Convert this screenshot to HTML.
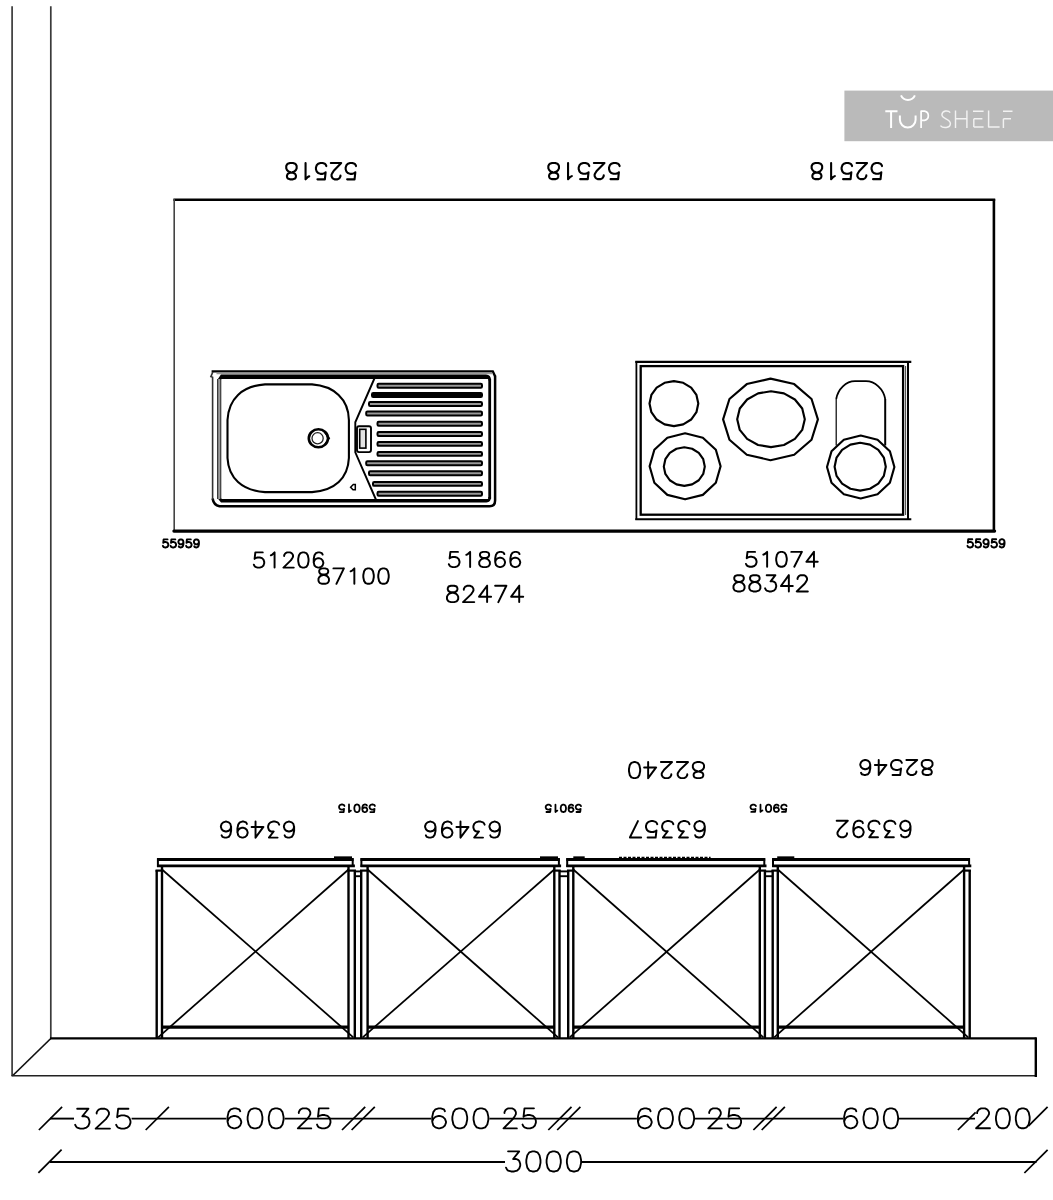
<!DOCTYPE html>
<html><head><meta charset="utf-8"><title>Kitchen plan</title>
<style>
html,body{margin:0;padding:0;background:#fff;}
body{width:1053px;height:1200px;overflow:hidden;font-family:"Liberation Sans",sans-serif;}
svg{display:block;}
</style></head><body>
<svg width="1053" height="1200" viewBox="0 0 1053 1200">
<rect x="0" y="0" width="1053" height="1200" fill="#ffffff"/>
<line x1="12.10" y1="6.20" x2="12.10" y2="1076.00" stroke="#3a3a3a" stroke-width="1.70" stroke-linecap="butt"/>
<line x1="50.80" y1="6.20" x2="50.80" y2="1038.60" stroke="#3a3a3a" stroke-width="1.70" stroke-linecap="butt"/>
<line x1="50.80" y1="1038.50" x2="12.30" y2="1076.00" stroke="#111" stroke-width="1.70" stroke-linecap="butt"/>
<line x1="50.00" y1="1038.40" x2="1036.50" y2="1038.40" stroke="#000" stroke-width="2.20" stroke-linecap="butt"/>
<line x1="11.50" y1="1075.80" x2="1036.50" y2="1075.80" stroke="#222" stroke-width="1.60" stroke-linecap="butt"/>
<line x1="1035.80" y1="1037.50" x2="1035.80" y2="1077.00" stroke="#000" stroke-width="2.40" stroke-linecap="butt"/>
<line x1="173.40" y1="199.80" x2="995.20" y2="199.80" stroke="#000" stroke-width="2.40" stroke-linecap="butt"/>
<line x1="174.20" y1="199.00" x2="174.20" y2="531.00" stroke="#444" stroke-width="1.60" stroke-linecap="butt"/>
<line x1="993.90" y1="199.00" x2="993.90" y2="532.00" stroke="#000" stroke-width="2.60" stroke-linecap="butt"/>
<line x1="173.90" y1="531.10" x2="994.60" y2="531.10" stroke="#000" stroke-width="3.20" stroke-linecap="round"/>
<path d="M347.14 179.35 L354.56 179.35 L355.31 172.32 L354.56 173.10 L352.34 173.88 L350.11 173.88 L347.88 173.10 L346.40 171.54 L345.65 169.20 L345.65 167.64 L346.40 165.29 L347.88 163.73 L350.11 162.95 L352.34 162.95 L354.56 163.73 L355.31 164.51 L356.05 166.07 M340.46 175.45 L340.46 176.23 L339.71 177.79 L338.97 178.57 L337.49 179.35 L334.52 179.35 L333.03 178.57 L332.29 177.79 L331.55 176.23 L331.55 174.66 L332.29 173.10 L333.77 170.76 L341.20 162.95 L330.80 162.95 M317.44 179.35 L324.86 179.35 L325.61 172.32 L324.86 173.10 L322.64 173.88 L320.41 173.88 L318.18 173.10 L316.69 171.54 L315.95 169.20 L315.95 167.64 L316.69 165.29 L318.18 163.73 L320.41 162.95 L322.64 162.95 L324.86 163.73 L325.61 164.51 L326.35 166.07 M309.27 176.23 L307.78 177.01 L305.56 179.35 L305.56 162.95 M292.93 179.35 L295.16 178.57 L295.90 177.01 L295.90 175.45 L295.16 173.88 L293.68 173.10 L290.71 172.32 L288.48 171.54 L286.99 169.98 L286.25 168.42 L286.25 166.07 L286.99 164.51 L287.74 163.73 L289.96 162.95 L292.93 162.95 L295.16 163.73 L295.90 164.51 L296.65 166.07 L296.65 168.42 L295.90 169.98 L294.42 171.54 L292.19 172.32 L289.22 173.10 L287.74 173.88 L286.99 175.45 L286.99 177.01 L287.74 178.57 L289.96 179.35 L292.93 179.35" fill="none" stroke="#000" stroke-width="2.10" stroke-linecap="round" stroke-linejoin="round"/>
<path d="M610.55 179.15 L618.13 179.15 L618.89 172.21 L618.13 172.98 L615.86 173.75 L613.58 173.75 L611.31 172.98 L609.79 171.44 L609.03 169.12 L609.03 167.58 L609.79 165.26 L611.31 163.72 L613.58 162.95 L615.86 162.95 L618.13 163.72 L618.89 164.49 L619.65 166.04 M603.72 175.29 L603.72 176.06 L602.96 177.61 L602.20 178.38 L600.69 179.15 L597.65 179.15 L596.14 178.38 L595.38 177.61 L594.62 176.06 L594.62 174.52 L595.38 172.98 L596.89 170.66 L604.48 162.95 L593.86 162.95 M580.21 179.15 L587.79 179.15 L588.55 172.21 L587.79 172.98 L585.52 173.75 L583.24 173.75 L580.97 172.98 L579.45 171.44 L578.69 169.12 L578.69 167.58 L579.45 165.26 L580.97 163.72 L583.24 162.95 L585.52 162.95 L587.79 163.72 L588.55 164.49 L589.31 166.04 M571.86 176.06 L570.35 176.84 L568.07 179.15 L568.07 162.95 M555.18 179.15 L557.45 178.38 L558.21 176.84 L558.21 175.29 L557.45 173.75 L555.94 172.98 L552.90 172.21 L550.63 171.44 L549.11 169.89 L548.35 168.35 L548.35 166.04 L549.11 164.49 L549.87 163.72 L552.14 162.95 L555.18 162.95 L557.45 163.72 L558.21 164.49 L558.97 166.04 L558.97 168.35 L558.21 169.89 L556.69 171.44 L554.42 172.21 L551.38 172.98 L549.87 173.75 L549.11 175.29 L549.11 176.84 L549.87 178.38 L552.14 179.15 L555.18 179.15" fill="none" stroke="#000" stroke-width="2.10" stroke-linecap="round" stroke-linejoin="round"/>
<path d="M873.06 179.15 L880.55 179.15 L881.30 172.21 L880.55 172.98 L878.31 173.75 L876.06 173.75 L873.81 172.98 L872.31 171.44 L871.56 169.12 L871.56 167.58 L872.31 165.26 L873.81 163.72 L876.06 162.95 L878.31 162.95 L880.55 163.72 L881.30 164.49 L882.05 166.04 M866.32 175.29 L866.32 176.06 L865.57 177.61 L864.82 178.38 L863.33 179.15 L860.33 179.15 L858.83 178.38 L858.08 177.61 L857.34 176.06 L857.34 174.52 L858.08 172.98 L859.58 170.66 L867.07 162.95 L856.59 162.95 M843.11 179.15 L850.59 179.15 L851.34 172.21 L850.59 172.98 L848.35 173.75 L846.10 173.75 L843.85 172.98 L842.36 171.44 L841.61 169.12 L841.61 167.58 L842.36 165.26 L843.85 163.72 L846.10 162.95 L848.35 162.95 L850.59 163.72 L851.34 164.49 L852.09 166.04 M834.87 176.06 L833.37 176.84 L831.12 179.15 L831.12 162.95 M818.39 179.15 L820.64 178.38 L821.39 176.84 L821.39 175.29 L820.64 173.75 L819.14 172.98 L816.14 172.21 L813.90 171.44 L812.40 169.89 L811.65 168.35 L811.65 166.04 L812.40 164.49 L813.15 163.72 L815.39 162.95 L818.39 162.95 L820.64 163.72 L821.39 164.49 L822.14 166.04 L822.14 168.35 L821.39 169.89 L819.89 171.44 L817.64 172.21 L814.65 172.98 L813.15 173.75 L812.40 175.29 L812.40 176.84 L813.15 178.38 L815.39 179.15 L818.39 179.15" fill="none" stroke="#000" stroke-width="2.10" stroke-linecap="round" stroke-linejoin="round"/>
<path d="M167.53 539.38 L163.65 539.38 L163.26 542.82 L163.65 542.44 L164.81 542.06 L165.98 542.06 L167.14 542.44 L167.91 543.21 L168.30 544.36 L168.30 545.12 L167.91 546.27 L167.14 547.04 L165.98 547.42 L164.81 547.42 L163.65 547.04 L163.26 546.66 L162.88 545.89 M175.28 539.38 L171.40 539.38 L171.02 542.82 L171.40 542.44 L172.57 542.06 L173.73 542.06 L174.89 542.44 L175.67 543.21 L176.05 544.36 L176.05 545.12 L175.67 546.27 L174.89 547.04 L173.73 547.42 L172.57 547.42 L171.40 547.04 L171.02 546.66 L170.63 545.89 M183.42 542.06 L183.03 543.21 L182.26 543.98 L181.09 544.36 L180.71 544.36 L179.54 543.98 L178.77 543.21 L178.38 542.06 L178.38 541.67 L178.77 540.52 L179.54 539.76 L180.71 539.38 L181.09 539.38 L182.26 539.76 L183.03 540.52 L183.42 542.06 L183.42 543.98 L183.03 545.89 L182.26 547.04 L181.09 547.42 L180.32 547.42 L179.16 547.04 L178.77 546.27 M190.78 539.38 L186.91 539.38 L186.52 542.82 L186.91 542.44 L188.07 542.06 L189.23 542.06 L190.40 542.44 L191.17 543.21 L191.56 544.36 L191.56 545.12 L191.17 546.27 L190.40 547.04 L189.23 547.42 L188.07 547.42 L186.91 547.04 L186.52 546.66 L186.13 545.89 M198.93 542.06 L198.54 543.21 L197.76 543.98 L196.60 544.36 L196.21 544.36 L195.05 543.98 L194.27 543.21 L193.89 542.06 L193.89 541.67 L194.27 540.52 L195.05 539.76 L196.21 539.38 L196.60 539.38 L197.76 539.76 L198.54 540.52 L198.93 542.06 L198.93 543.98 L198.54 545.89 L197.76 547.04 L196.60 547.42 L195.82 547.42 L194.66 547.04 L194.27 546.27" fill="none" stroke="#000" stroke-width="1.95" stroke-linecap="round" stroke-linejoin="round"/>
<path d="M972.26 539.18 L968.27 539.18 L967.87 542.71 L968.27 542.32 L969.47 541.93 L970.66 541.93 L971.86 542.32 L972.65 543.10 L973.05 544.28 L973.05 545.07 L972.65 546.25 L971.86 547.03 L970.66 547.42 L969.47 547.42 L968.27 547.03 L967.87 546.64 L967.48 545.85 M980.22 539.18 L976.24 539.18 L975.84 542.71 L976.24 542.32 L977.43 541.93 L978.63 541.93 L979.83 542.32 L980.62 543.10 L981.02 544.28 L981.02 545.07 L980.62 546.25 L979.83 547.03 L978.63 547.42 L977.43 547.42 L976.24 547.03 L975.84 546.64 L975.44 545.85 M988.59 541.93 L988.19 543.10 L987.39 543.89 L986.20 544.28 L985.80 544.28 L984.61 543.89 L983.81 543.10 L983.41 541.93 L983.41 541.53 L983.81 540.35 L984.61 539.57 L985.80 539.18 L986.20 539.18 L987.39 539.57 L988.19 540.35 L988.59 541.93 L988.59 543.89 L988.19 545.85 L987.39 547.03 L986.20 547.42 L985.40 547.42 L984.21 547.03 L983.81 546.25 M996.16 539.18 L992.17 539.18 L991.78 542.71 L992.17 542.32 L993.37 541.93 L994.57 541.93 L995.76 542.32 L996.56 543.10 L996.96 544.28 L996.96 545.07 L996.56 546.25 L995.76 547.03 L994.57 547.42 L993.37 547.42 L992.17 547.03 L991.78 546.64 L991.38 545.85 M1004.52 541.93 L1004.13 543.10 L1003.33 543.89 L1002.13 544.28 L1001.74 544.28 L1000.54 543.89 L999.74 543.10 L999.35 541.93 L999.35 541.53 L999.74 540.35 L1000.54 539.57 L1001.74 539.18 L1002.13 539.18 L1003.33 539.57 L1004.13 540.35 L1004.52 541.93 L1004.52 543.89 L1004.13 545.85 L1003.33 547.03 L1002.13 547.42 L1001.34 547.42 L1000.14 547.03 L999.74 546.25" fill="none" stroke="#000" stroke-width="1.95" stroke-linecap="round" stroke-linejoin="round"/>
<path d="M262.74 552.38 L255.35 552.38 L254.61 558.91 L255.35 558.18 L257.57 557.46 L259.79 557.46 L262.00 558.18 L263.48 559.64 L264.22 561.82 L264.22 563.27 L263.48 565.45 L262.00 566.90 L259.79 567.62 L257.57 567.62 L255.35 566.90 L254.61 566.17 L253.88 564.72 M270.87 555.28 L272.35 554.55 L274.56 552.38 L274.56 567.62 M284.17 556.01 L284.17 555.28 L284.91 553.83 L285.64 553.10 L287.12 552.38 L290.08 552.38 L291.56 553.10 L292.29 553.83 L293.03 555.28 L293.03 556.73 L292.29 558.18 L290.82 560.36 L283.43 567.62 L293.77 567.62 M302.64 552.38 L300.42 553.10 L298.94 555.28 L298.20 558.91 L298.20 561.09 L298.94 564.72 L300.42 566.90 L302.64 567.62 L304.12 567.62 L306.33 566.90 L307.81 564.72 L308.55 561.09 L308.55 558.91 L307.81 555.28 L306.33 553.10 L304.12 552.38 L302.64 552.38 M322.59 554.55 L321.85 553.10 L319.63 552.38 L318.15 552.38 L315.94 553.10 L314.46 555.28 L313.72 558.91 L313.72 562.54 L314.46 565.45 L315.94 566.90 L318.15 567.62 L318.89 567.62 L321.11 566.90 L322.59 565.45 L323.32 563.27 L323.32 562.54 L322.59 560.36 L321.11 558.91 L318.89 558.18 L318.15 558.18 L315.94 558.91 L314.46 560.36 L313.72 562.54" fill="none" stroke="#000" stroke-width="1.95" stroke-linecap="round" stroke-linejoin="round"/>
<path d="M322.21 568.38 L319.97 569.11 L319.22 570.58 L319.22 572.05 L319.97 573.52 L321.46 574.26 L324.45 575.00 L326.70 575.73 L328.19 577.20 L328.94 578.67 L328.94 580.88 L328.19 582.35 L327.44 583.09 L325.20 583.82 L322.21 583.82 L319.97 583.09 L319.22 582.35 L318.48 580.88 L318.48 578.67 L319.22 577.20 L320.72 575.73 L322.96 575.00 L325.95 574.26 L327.44 573.52 L328.19 572.05 L328.19 570.58 L327.44 569.11 L325.20 568.38 L322.21 568.38 M343.88 568.38 L336.41 583.82 M333.42 568.38 L343.88 568.38 M350.61 571.32 L352.11 570.58 L354.35 568.38 L354.35 583.82 M367.80 568.38 L365.56 569.11 L364.06 571.32 L363.32 575.00 L363.32 577.20 L364.06 580.88 L365.56 583.09 L367.80 583.82 L369.29 583.82 L371.54 583.09 L373.03 580.88 L373.78 577.20 L373.78 575.00 L373.03 571.32 L371.54 569.11 L369.29 568.38 L367.80 568.38 M382.75 568.38 L380.50 569.11 L379.01 571.32 L378.26 575.00 L378.26 577.20 L379.01 580.88 L380.50 583.09 L382.75 583.82 L384.24 583.82 L386.48 583.09 L387.98 580.88 L388.72 577.20 L388.72 575.00 L387.98 571.32 L386.48 569.11 L384.24 568.38 L382.75 568.38" fill="none" stroke="#000" stroke-width="1.95" stroke-linecap="round" stroke-linejoin="round"/>
<path d="M457.98 551.88 L450.39 551.88 L449.63 558.41 L450.39 557.68 L452.67 556.96 L454.95 556.96 L457.22 557.68 L458.74 559.14 L459.50 561.32 L459.50 562.77 L458.74 564.95 L457.22 566.40 L454.95 567.12 L452.67 567.12 L450.39 566.40 L449.63 565.67 L448.88 564.22 M466.33 554.78 L467.85 554.05 L470.13 551.88 L470.13 567.12 M483.03 551.88 L480.75 552.60 L480.00 554.05 L480.00 555.51 L480.75 556.96 L482.27 557.68 L485.31 558.41 L487.59 559.14 L489.10 560.59 L489.86 562.04 L489.86 564.22 L489.10 565.67 L488.35 566.40 L486.07 567.12 L483.03 567.12 L480.75 566.40 L480.00 565.67 L479.24 564.22 L479.24 562.04 L480.00 560.59 L481.51 559.14 L483.79 558.41 L486.83 557.68 L488.35 556.96 L489.10 555.51 L489.10 554.05 L488.35 552.60 L486.07 551.88 L483.03 551.88 M504.29 554.05 L503.53 552.60 L501.25 551.88 L499.73 551.88 L497.45 552.60 L495.94 554.78 L495.18 558.41 L495.18 562.04 L495.94 564.95 L497.45 566.40 L499.73 567.12 L500.49 567.12 L502.77 566.40 L504.29 564.95 L505.04 562.77 L505.04 562.04 L504.29 559.86 L502.77 558.41 L500.49 557.68 L499.73 557.68 L497.45 558.41 L495.94 559.86 L495.18 562.04 M519.47 554.05 L518.71 552.60 L516.43 551.88 L514.91 551.88 L512.63 552.60 L511.12 554.78 L510.36 558.41 L510.36 562.04 L511.12 564.95 L512.63 566.40 L514.91 567.12 L515.67 567.12 L517.95 566.40 L519.47 564.95 L520.23 562.77 L520.23 562.04 L519.47 559.86 L517.95 558.41 L515.67 557.68 L514.91 557.68 L512.63 558.41 L511.12 559.86 L510.36 562.04" fill="none" stroke="#000" stroke-width="1.95" stroke-linecap="round" stroke-linejoin="round"/>
<path d="M450.99 585.77 L448.58 586.55 L447.78 588.11 L447.78 589.67 L448.58 591.23 L450.19 592.00 L453.40 592.78 L455.80 593.56 L457.41 595.12 L458.21 596.67 L458.21 599.01 L457.41 600.57 L456.61 601.35 L454.20 602.12 L450.99 602.12 L448.58 601.35 L447.78 600.57 L446.98 599.01 L446.98 596.67 L447.78 595.12 L449.38 593.56 L451.79 592.78 L455.00 592.00 L456.61 591.23 L457.41 589.67 L457.41 588.11 L456.61 586.55 L454.20 585.77 L450.99 585.77 M463.83 589.67 L463.83 588.89 L464.63 587.33 L465.44 586.55 L467.04 585.77 L470.25 585.77 L471.86 586.55 L472.66 587.33 L473.46 588.89 L473.46 590.45 L472.66 592.00 L471.05 594.34 L463.03 602.12 L474.26 602.12 M487.11 585.77 L479.08 596.67 L491.12 596.67 M487.11 585.77 L487.11 602.12 M506.37 585.77 L498.34 602.12 M495.13 585.77 L506.37 585.77 M519.21 585.77 L511.19 596.67 L523.23 596.67 M519.21 585.77 L519.21 602.12" fill="none" stroke="#000" stroke-width="1.95" stroke-linecap="round" stroke-linejoin="round"/>
<path d="M755.04 551.88 L747.49 551.88 L746.73 558.24 L747.49 557.53 L749.75 556.83 L752.02 556.83 L754.28 557.53 L755.79 558.95 L756.55 561.07 L756.55 562.48 L755.79 564.60 L754.28 566.02 L752.02 566.73 L749.75 566.73 L747.49 566.02 L746.73 565.31 L745.98 563.90 M763.35 554.70 L764.86 554.00 L767.12 551.88 L767.12 566.73 M780.72 551.88 L778.45 552.58 L776.94 554.70 L776.19 558.24 L776.19 560.36 L776.94 563.90 L778.45 566.02 L780.72 566.73 L782.23 566.73 L784.49 566.02 L786.00 563.90 L786.76 560.36 L786.76 558.24 L786.00 554.70 L784.49 552.58 L782.23 551.88 L780.72 551.88 M801.86 551.88 L794.31 566.73 M791.29 551.88 L801.86 551.88 M813.95 551.88 L806.40 561.77 L817.73 561.77 M813.95 551.88 L813.95 566.73" fill="none" stroke="#000" stroke-width="1.95" stroke-linecap="round" stroke-linejoin="round"/>
<path d="M737.43 575.18 L735.06 575.95 L734.27 577.50 L734.27 579.04 L735.06 580.59 L736.64 581.37 L739.80 582.14 L742.18 582.91 L743.76 584.46 L744.55 586.01 L744.55 588.33 L743.76 589.88 L742.97 590.65 L740.59 591.42 L737.43 591.42 L735.06 590.65 L734.27 589.88 L733.48 588.33 L733.48 586.01 L734.27 584.46 L735.85 582.91 L738.22 582.14 L741.38 581.37 L742.97 580.59 L743.76 579.04 L743.76 577.50 L742.97 575.95 L740.59 575.18 L737.43 575.18 M753.25 575.18 L750.88 575.95 L750.09 577.50 L750.09 579.04 L750.88 580.59 L752.46 581.37 L755.62 582.14 L757.99 582.91 L759.58 584.46 L760.37 586.01 L760.37 588.33 L759.58 589.88 L758.79 590.65 L756.41 591.42 L753.25 591.42 L750.88 590.65 L750.09 589.88 L749.29 588.33 L749.29 586.01 L750.09 584.46 L751.67 582.91 L754.04 582.14 L757.20 581.37 L758.79 580.59 L759.58 579.04 L759.58 577.50 L758.79 575.95 L756.41 575.18 L753.25 575.18 M766.70 575.18 L775.40 575.18 L770.65 581.37 L773.02 581.37 L774.60 582.14 L775.40 582.91 L776.19 585.23 L776.19 586.78 L775.40 589.10 L773.81 590.65 L771.44 591.42 L769.07 591.42 L766.70 590.65 L765.90 589.88 L765.11 588.33 M788.84 575.18 L780.93 586.01 L792.80 586.01 M788.84 575.18 L788.84 591.42 M797.54 579.04 L797.54 578.27 L798.33 576.72 L799.12 575.95 L800.71 575.18 L803.87 575.18 L805.45 575.95 L806.24 576.72 L807.03 578.27 L807.03 579.82 L806.24 581.37 L804.66 583.69 L796.75 591.42 L807.82 591.42" fill="none" stroke="#000" stroke-width="1.95" stroke-linecap="round" stroke-linejoin="round"/>
<path d="M284.67 835.33 L285.46 836.86 L287.82 837.62 L289.40 837.62 L291.76 836.86 L293.34 834.57 L294.12 830.75 L294.12 826.93 L293.34 823.87 L291.76 822.34 L289.40 821.58 L288.61 821.58 L286.25 822.34 L284.67 823.87 L283.89 826.16 L283.89 826.93 L284.67 829.22 L286.25 830.75 L288.61 831.51 L289.40 831.51 L291.76 830.75 L293.34 829.22 L294.12 826.93 M277.58 837.62 L268.92 837.62 L273.65 831.51 L271.28 831.51 L269.71 830.75 L268.92 829.98 L268.13 827.69 L268.13 826.16 L268.92 823.87 L270.50 822.34 L272.86 821.58 L275.22 821.58 L277.58 822.34 L278.37 823.10 L279.16 824.63 M255.53 837.62 L263.41 826.93 L251.59 826.93 M255.53 837.62 L255.53 821.58 M237.42 832.27 L238.20 829.98 L239.78 828.45 L242.14 827.69 L242.93 827.69 L245.29 828.45 L246.87 829.98 L247.65 832.27 L247.65 833.04 L246.87 835.33 L245.29 836.86 L242.93 837.62 L242.14 837.62 L239.78 836.86 L238.20 835.33 L237.42 832.27 L237.42 828.45 L238.20 824.63 L239.78 822.34 L242.14 821.58 L243.72 821.58 L246.08 822.34 L246.87 823.87 M221.66 835.33 L222.45 836.86 L224.81 837.62 L226.39 837.62 L228.75 836.86 L230.33 834.57 L231.11 830.75 L231.11 826.93 L230.33 823.87 L228.75 822.34 L226.39 821.58 L225.60 821.58 L223.24 822.34 L221.66 823.87 L220.88 826.16 L220.88 826.93 L221.66 829.22 L223.24 830.75 L225.60 831.51 L226.39 831.51 L228.75 830.75 L230.33 829.22 L231.11 826.93" fill="none" stroke="#000" stroke-width="1.95" stroke-linecap="round" stroke-linejoin="round"/>
<path d="M490.27 835.33 L491.07 836.86 L493.49 837.62 L495.10 837.62 L497.51 836.86 L499.12 834.57 L499.92 830.75 L499.92 826.93 L499.12 823.87 L497.51 822.34 L495.10 821.58 L494.29 821.58 L491.88 822.34 L490.27 823.87 L489.46 826.16 L489.46 826.93 L490.27 829.22 L491.88 830.75 L494.29 831.51 L495.10 831.51 L497.51 830.75 L499.12 829.22 L499.92 826.93 M483.02 837.62 L474.17 837.62 L479.00 831.51 L476.58 831.51 L474.97 830.75 L474.17 829.98 L473.37 827.69 L473.37 826.16 L474.17 823.87 L475.78 822.34 L478.19 821.58 L480.61 821.58 L483.02 822.34 L483.83 823.10 L484.63 824.63 M460.49 837.62 L468.54 826.93 L456.46 826.93 M460.49 837.62 L460.49 821.58 M441.98 832.27 L442.78 829.98 L444.39 828.45 L446.81 827.69 L447.61 827.69 L450.03 828.45 L451.63 829.98 L452.44 832.27 L452.44 833.04 L451.63 835.33 L450.03 836.86 L447.61 837.62 L446.81 837.62 L444.39 836.86 L442.78 835.33 L441.98 832.27 L441.98 828.45 L442.78 824.63 L444.39 822.34 L446.81 821.58 L448.42 821.58 L450.83 822.34 L451.63 823.87 M425.88 835.33 L426.68 836.86 L429.10 837.62 L430.71 837.62 L433.12 836.86 L434.73 834.57 L435.54 830.75 L435.54 826.93 L434.73 823.87 L433.12 822.34 L430.71 821.58 L429.90 821.58 L427.49 822.34 L425.88 823.87 L425.08 826.16 L425.08 826.93 L425.88 829.22 L427.49 830.75 L429.90 831.51 L430.71 831.51 L433.12 830.75 L434.73 829.22 L435.54 826.93" fill="none" stroke="#000" stroke-width="1.95" stroke-linecap="round" stroke-linejoin="round"/>
<path d="M695.15 835.17 L695.96 836.74 L698.38 837.52 L699.99 837.52 L702.41 836.74 L704.02 834.39 L704.82 830.48 L704.82 826.56 L704.02 823.43 L702.41 821.86 L699.99 821.08 L699.18 821.08 L696.77 821.86 L695.15 823.43 L694.35 825.77 L694.35 826.56 L695.15 828.91 L696.77 830.48 L699.18 831.26 L699.99 831.26 L702.41 830.48 L704.02 828.91 L704.82 826.56 M687.90 837.52 L679.04 837.52 L683.87 831.26 L681.45 831.26 L679.84 830.48 L679.04 829.69 L678.23 827.34 L678.23 825.77 L679.04 823.43 L680.65 821.86 L683.07 821.08 L685.48 821.08 L687.90 821.86 L688.71 822.64 L689.51 824.21 M671.78 837.52 L662.92 837.52 L667.75 831.26 L665.34 831.26 L663.72 830.48 L662.92 829.69 L662.11 827.34 L662.11 825.77 L662.92 823.43 L664.53 821.86 L666.95 821.08 L669.36 821.08 L671.78 821.86 L672.59 822.64 L673.39 824.21 M647.61 837.52 L655.66 837.52 L656.47 830.48 L655.66 831.26 L653.25 832.04 L650.83 832.04 L648.41 831.26 L646.80 829.69 L645.99 827.34 L645.99 825.77 L646.80 823.43 L648.41 821.86 L650.83 821.08 L653.25 821.08 L655.66 821.86 L656.47 822.64 L657.28 824.21 M629.88 837.52 L637.93 821.08 M641.16 837.52 L629.88 837.52" fill="none" stroke="#000" stroke-width="1.95" stroke-linecap="round" stroke-linejoin="round"/>
<path d="M901.00 834.88 L901.79 836.44 L904.17 837.23 L905.76 837.23 L908.14 836.44 L909.73 834.09 L910.52 830.17 L910.52 826.26 L909.73 823.12 L908.14 821.56 L905.76 820.77 L904.97 820.77 L902.58 821.56 L901.00 823.12 L900.20 825.48 L900.20 826.26 L901.00 828.61 L902.58 830.17 L904.97 830.96 L905.76 830.96 L908.14 830.17 L909.73 828.61 L910.52 826.26 M893.85 837.23 L885.11 837.23 L889.88 830.96 L887.50 830.96 L885.91 830.17 L885.11 829.39 L884.32 827.04 L884.32 825.48 L885.11 823.12 L886.70 821.56 L889.08 820.77 L891.47 820.77 L893.85 821.56 L894.64 822.34 L895.44 823.91 M877.97 837.23 L869.23 837.23 L874.00 830.96 L871.61 830.96 L870.03 830.17 L869.23 829.39 L868.44 827.04 L868.44 825.48 L869.23 823.12 L870.82 821.56 L873.20 820.77 L875.59 820.77 L877.97 821.56 L878.76 822.34 L879.56 823.91 M853.35 831.74 L854.14 829.39 L855.73 827.83 L858.12 827.04 L858.91 827.04 L861.29 827.83 L862.88 829.39 L863.67 831.74 L863.67 832.52 L862.88 834.88 L861.29 836.44 L858.91 837.23 L858.12 837.23 L855.73 836.44 L854.14 834.88 L853.35 831.74 L853.35 827.83 L854.14 823.91 L855.73 821.56 L858.12 820.77 L859.70 820.77 L862.09 821.56 L862.88 823.12 M847.00 833.31 L847.00 834.09 L846.20 835.66 L845.41 836.44 L843.82 837.23 L840.65 837.23 L839.06 836.44 L838.26 835.66 L837.47 834.09 L837.47 832.52 L838.26 830.96 L839.85 828.61 L847.79 820.77 L836.68 820.77" fill="none" stroke="#000" stroke-width="1.95" stroke-linecap="round" stroke-linejoin="round"/>
<path d="M700.03 778.12 L702.43 777.36 L703.23 775.83 L703.23 774.30 L702.43 772.77 L700.83 772.01 L697.64 771.25 L695.24 770.48 L693.65 768.95 L692.85 767.43 L692.85 765.13 L693.65 763.60 L694.44 762.84 L696.84 762.08 L700.03 762.08 L702.43 762.84 L703.23 763.60 L704.02 765.13 L704.02 767.43 L703.23 768.95 L701.63 770.48 L699.23 771.25 L696.04 772.01 L694.44 772.77 L693.65 774.30 L693.65 775.83 L694.44 777.36 L696.84 778.12 L700.03 778.12 M687.26 774.30 L687.26 775.07 L686.46 776.60 L685.66 777.36 L684.06 778.12 L680.87 778.12 L679.27 777.36 L678.48 776.60 L677.68 775.07 L677.68 773.54 L678.48 772.01 L680.07 769.72 L688.06 762.08 L676.88 762.08 M671.29 774.30 L671.29 775.07 L670.49 776.60 L669.69 777.36 L668.10 778.12 L664.90 778.12 L663.31 777.36 L662.51 776.60 L661.71 775.07 L661.71 773.54 L662.51 772.01 L664.10 769.72 L672.09 762.08 L660.91 762.08 M648.14 778.12 L656.12 767.43 L644.14 767.43 M648.14 778.12 L648.14 762.08 M635.36 778.12 L637.76 777.36 L639.35 775.07 L640.15 771.25 L640.15 768.95 L639.35 765.13 L637.76 762.84 L635.36 762.08 L633.77 762.08 L631.37 762.84 L629.77 765.13 L628.98 768.95 L628.98 771.25 L629.77 775.07 L631.37 777.36 L633.77 778.12 L635.36 778.12" fill="none" stroke="#000" stroke-width="1.95" stroke-linecap="round" stroke-linejoin="round"/>
<path d="M928.68 774.92 L930.99 774.21 L931.76 772.79 L931.76 771.37 L930.99 769.94 L929.45 769.23 L926.38 768.52 L924.07 767.81 L922.53 766.38 L921.76 764.96 L921.76 762.82 L922.53 761.40 L923.30 760.69 L925.61 759.98 L928.68 759.98 L930.99 760.69 L931.76 761.40 L932.52 762.82 L932.52 764.96 L931.76 766.38 L930.22 767.81 L927.91 768.52 L924.84 769.23 L923.30 769.94 L922.53 771.37 L922.53 772.79 L923.30 774.21 L925.61 774.92 L928.68 774.92 M916.38 771.37 L916.38 772.08 L915.62 773.50 L914.85 774.21 L913.31 774.92 L910.24 774.92 L908.70 774.21 L907.93 773.50 L907.16 772.08 L907.16 770.65 L907.93 769.23 L909.47 767.09 L917.15 759.98 L906.39 759.98 M892.56 774.92 L900.24 774.92 L901.01 768.52 L900.24 769.23 L897.94 769.94 L895.63 769.94 L893.33 769.23 L891.79 767.81 L891.02 765.67 L891.02 764.25 L891.79 762.11 L893.33 760.69 L895.63 759.98 L897.94 759.98 L900.24 760.69 L901.01 761.40 L901.78 762.82 M878.72 774.92 L886.41 764.96 L874.88 764.96 M878.72 774.92 L878.72 759.98 M861.04 772.79 L861.81 774.21 L864.12 774.92 L865.66 774.92 L867.96 774.21 L869.50 772.08 L870.27 768.52 L870.27 764.96 L869.50 762.11 L867.96 760.69 L865.66 759.98 L864.89 759.98 L862.58 760.69 L861.04 762.11 L860.27 764.25 L860.27 764.96 L861.04 767.09 L862.58 768.52 L864.89 769.23 L865.66 769.23 L867.96 768.52 L869.50 767.09 L870.27 764.96" fill="none" stroke="#000" stroke-width="1.95" stroke-linecap="round" stroke-linejoin="round"/>
<path d="M370.33 812.10 L374.14 812.10 L374.52 808.84 L374.14 809.20 L373.00 809.57 L371.85 809.57 L370.71 809.20 L369.95 808.48 L369.57 807.40 L369.57 806.67 L369.95 805.59 L370.71 804.86 L371.85 804.50 L373.00 804.50 L374.14 804.86 L374.52 805.22 L374.90 805.95 M362.33 809.57 L362.71 808.48 L363.47 807.76 L364.62 807.40 L365.00 807.40 L366.14 807.76 L366.90 808.48 L367.28 809.57 L367.28 809.93 L366.90 811.01 L366.14 811.74 L365.00 812.10 L364.62 812.10 L363.47 811.74 L362.71 811.01 L362.33 809.57 L362.33 807.76 L362.71 805.95 L363.47 804.86 L364.62 804.50 L365.38 804.50 L366.52 804.86 L366.90 805.59 M357.38 812.10 L358.52 811.74 L359.29 810.65 L359.67 808.84 L359.67 807.76 L359.29 805.95 L358.52 804.86 L357.38 804.50 L356.62 804.50 L355.48 804.86 L354.71 805.95 L354.33 807.76 L354.33 808.84 L354.71 810.65 L355.48 811.74 L356.62 812.10 L357.38 812.10 M350.91 810.65 L350.14 811.01 L349.00 812.10 L349.00 804.50 M339.86 812.10 L343.67 812.10 L344.05 808.84 L343.67 809.20 L342.53 809.57 L341.39 809.57 L340.24 809.20 L339.48 808.48 L339.10 807.40 L339.10 806.67 L339.48 805.59 L340.24 804.86 L341.39 804.50 L342.53 804.50 L343.67 804.86 L344.05 805.22 L344.43 805.95" fill="none" stroke="#000" stroke-width="1.80" stroke-linecap="round" stroke-linejoin="round"/>
<path d="M576.49 812.00 L580.25 812.00 L580.62 808.87 L580.25 809.22 L579.12 809.57 L578.00 809.57 L576.87 809.22 L576.12 808.52 L575.74 807.48 L575.74 806.79 L576.12 805.74 L576.87 805.05 L578.00 804.70 L579.12 804.70 L580.25 805.05 L580.62 805.40 L581.00 806.09 M568.61 809.57 L568.98 808.52 L569.73 807.83 L570.86 807.48 L571.24 807.48 L572.36 807.83 L573.11 808.52 L573.49 809.57 L573.49 809.91 L573.11 810.96 L572.36 811.65 L571.24 812.00 L570.86 812.00 L569.73 811.65 L568.98 810.96 L568.61 809.57 L568.61 807.83 L568.98 806.09 L569.73 805.05 L570.86 804.70 L571.61 804.70 L572.74 805.05 L573.11 805.74 M563.73 812.00 L564.85 811.65 L565.60 810.61 L565.98 808.87 L565.98 807.83 L565.60 806.09 L564.85 805.05 L563.73 804.70 L562.97 804.70 L561.85 805.05 L561.10 806.09 L560.72 807.83 L560.72 808.87 L561.10 810.61 L561.85 811.65 L562.97 812.00 L563.73 812.00 M557.34 810.61 L556.59 810.96 L555.46 812.00 L555.46 804.70 M546.45 812.00 L550.21 812.00 L550.58 808.87 L550.21 809.22 L549.08 809.57 L547.95 809.57 L546.83 809.22 L546.08 808.52 L545.70 807.48 L545.70 806.79 L546.08 805.74 L546.83 805.05 L547.95 804.70 L549.08 804.70 L550.21 805.05 L550.58 805.40 L550.96 806.09" fill="none" stroke="#000" stroke-width="1.80" stroke-linecap="round" stroke-linejoin="round"/>
<path d="M781.99 811.90 L785.83 811.90 L786.22 808.81 L785.83 809.16 L784.68 809.50 L783.53 809.50 L782.38 809.16 L781.61 808.47 L781.22 807.44 L781.22 806.76 L781.61 805.73 L782.38 805.04 L783.53 804.70 L784.68 804.70 L785.83 805.04 L786.22 805.39 L786.60 806.07 M773.93 809.50 L774.31 808.47 L775.08 807.79 L776.23 807.44 L776.61 807.44 L777.77 807.79 L778.54 808.47 L778.92 809.50 L778.92 809.84 L778.54 810.87 L777.77 811.56 L776.61 811.90 L776.23 811.90 L775.08 811.56 L774.31 810.87 L773.93 809.50 L773.93 807.79 L774.31 806.07 L775.08 805.04 L776.23 804.70 L777.00 804.70 L778.15 805.04 L778.54 805.73 M768.93 811.90 L770.09 811.56 L770.85 810.53 L771.24 808.81 L771.24 807.79 L770.85 806.07 L770.09 805.04 L768.93 804.70 L768.17 804.70 L767.01 805.04 L766.25 806.07 L765.86 807.79 L765.86 808.81 L766.25 810.53 L767.01 811.56 L768.17 811.90 L768.93 811.90 M762.41 810.53 L761.64 810.87 L760.49 811.90 L760.49 804.70 M751.27 811.90 L755.11 811.90 L755.49 808.81 L755.11 809.16 L753.96 809.50 L752.80 809.50 L751.65 809.16 L750.88 808.47 L750.50 807.44 L750.50 806.76 L750.88 805.73 L751.65 805.04 L752.80 804.70 L753.96 804.70 L755.11 805.04 L755.49 805.39 L755.88 806.07" fill="none" stroke="#000" stroke-width="1.80" stroke-linecap="round" stroke-linejoin="round"/>
<path d="M211.6 371.4 L492.8 371.4 L495.1 376.2" fill="none" stroke="#000" stroke-width="2.4" stroke-linejoin="miter"/>
<path d="M495.1 375.5 L495.1 500.5 Q495.1 506.3 489.5 506.3 L219.5 506.3 Q213.6 505 212.6 498.5" fill="none" stroke="#000" stroke-width="2.5"/>
<path d="M212.6 499.5 L212.6 377.2 L210.9 376.6 L212.8 372" fill="none" stroke="#333" stroke-width="1.6"/>
<line x1="216.50" y1="373.50" x2="492.60" y2="373.50" stroke="#9a9a9a" stroke-width="1.40" stroke-linecap="butt"/>
<path d="M216.9 380.4 L220.9 374.4 L486 374.4 Q491.1 374.4 491.1 380.5 L488.3 380.5 L488.3 379 L221.6 379 L219.6 380.4 Z" fill="#000"/>
<line x1="489.70" y1="379.00" x2="489.70" y2="499.00" stroke="#000" stroke-width="2.80" stroke-linecap="butt"/>
<path d="M217.0 497.6 L221.0 502.5 L486.4 502.5 Q491.1 502.3 491.1 497 L488.3 497 L488.3 499.1 L222 499.1 L219.8 497.6 Z" fill="#000"/>
<line x1="219.10" y1="379.00" x2="219.10" y2="499.00" stroke="#9a9a9a" stroke-width="2.20" stroke-linecap="butt"/>
<line x1="217.60" y1="379.00" x2="217.60" y2="499.00" stroke="#3a3a3a" stroke-width="1.25" stroke-linecap="butt"/>
<line x1="220.70" y1="379.00" x2="220.70" y2="499.00" stroke="#3a3a3a" stroke-width="1.25" stroke-linecap="butt"/>
<path d="M265 384.4 L312 384.4 C334 386 348.6 399 348.9 420 L348.9 458 C348 478 335 490.5 312 492.1 L265 492.1 C242 490.5 228.5 478 227.5 458 L227.5 420 C228.5 399 242 386 265 384.4 Z" fill="none" stroke="#000" stroke-width="2.1"/>
<ellipse cx="318.40" cy="438.30" rx="9.60" ry="9.00" fill="none" stroke="#000" stroke-width="2.60"/>
<ellipse cx="317.60" cy="438.30" rx="5.60" ry="5.60" fill="none" stroke="#222" stroke-width="1.30"/>
<path d="M324.5 432.2 L329.3 438.3 L324.5 444.6" fill="none" stroke="#000" stroke-width="1.5"/>
<path d="M350.6 487.2 L353.3 484.5 L355.3 484.5 L355.3 489.7 L353 489.7 Z" fill="none" stroke="#000" stroke-width="1.5"/>
<path d="M374.4 378.5 L355.3 422.3 L355.3 452.3 L375.9 499.5" fill="none" stroke="#000" stroke-width="1.9"/>
<rect x="357.00" y="426.30" width="14.00" height="25.80" rx="2.00" fill="none" stroke="#000" stroke-width="1.90"/>
<rect x="359.70" y="429.30" width="6.20" height="18.80" rx="0.00" fill="#e4e4e4" stroke="#000" stroke-width="1.60"/>
<rect x="377.50" y="383.85" width="104.50" height="3.9" rx="1.2" fill="#989898" stroke="#000" stroke-width="2.0"/>
<rect x="372.00" y="393.05" width="110.00" height="3.9" rx="1.2" fill="#000" stroke="#000" stroke-width="2.0"/>
<rect x="369.00" y="402.05" width="113.00" height="3.9" rx="1.2" fill="#989898" stroke="#000" stroke-width="2.0"/>
<rect x="366.20" y="411.55" width="115.80" height="3.9" rx="1.2" fill="#989898" stroke="#000" stroke-width="2.0"/>
<rect x="377.50" y="421.85" width="104.50" height="3.9" rx="1.2" fill="#989898" stroke="#000" stroke-width="2.0"/>
<rect x="377.50" y="432.05" width="104.50" height="3.9" rx="1.2" fill="#989898" stroke="#000" stroke-width="2.0"/>
<rect x="377.50" y="441.95" width="104.50" height="3.9" rx="1.2" fill="#989898" stroke="#000" stroke-width="2.0"/>
<rect x="377.50" y="451.95" width="104.50" height="3.9" rx="1.2" fill="#989898" stroke="#000" stroke-width="2.0"/>
<rect x="366.20" y="461.35" width="115.80" height="3.9" rx="1.2" fill="#989898" stroke="#000" stroke-width="2.0"/>
<rect x="369.00" y="471.25" width="113.00" height="3.9" rx="1.2" fill="#989898" stroke="#000" stroke-width="2.0"/>
<rect x="373.00" y="481.95" width="109.00" height="3.9" rx="1.2" fill="#989898" stroke="#000" stroke-width="2.0"/>
<rect x="377.50" y="491.75" width="104.50" height="3.9" rx="1.2" fill="#989898" stroke="#000" stroke-width="2.0"/>
<line x1="635.30" y1="361.90" x2="911.30" y2="361.90" stroke="#000" stroke-width="2.30" stroke-linecap="butt"/>
<line x1="635.30" y1="519.20" x2="911.30" y2="519.20" stroke="#000" stroke-width="2.00" stroke-linecap="butt"/>
<line x1="636.40" y1="361.00" x2="636.40" y2="520.00" stroke="#000" stroke-width="1.80" stroke-linecap="butt"/>
<line x1="908.00" y1="361.00" x2="908.00" y2="520.00" stroke="#000" stroke-width="2.00" stroke-linecap="butt"/>
<rect x="640.70" y="366.10" width="262.40" height="148.60" rx="0.00" fill="none" stroke="#000" stroke-width="2.30"/>
<line x1="905.60" y1="366.00" x2="905.60" y2="515.00" stroke="#444" stroke-width="1.00" stroke-linecap="butt"/>
<polygon points="698.30,403.60 696.44,412.21 691.15,419.51 683.24,424.39 673.90,426.10 664.56,424.39 656.65,419.51 651.36,412.21 649.50,403.60 651.36,394.99 656.65,387.69 664.56,382.81 673.90,381.10 683.24,382.81 691.15,387.69 696.44,394.99" fill="none" stroke="#000" stroke-width="2.15" stroke-linejoin="round"/>
<polygon points="720.60,466.30 715.84,482.80 702.85,494.88 685.10,499.30 667.35,494.88 654.36,482.80 649.60,466.30 654.36,449.80 667.35,437.72 685.10,433.30 702.85,437.72 715.84,449.80" fill="none" stroke="#000" stroke-width="2.15" stroke-linejoin="round"/>
<polygon points="704.80,466.60 703.24,473.99 698.80,480.25 692.15,484.43 684.30,485.90 676.45,484.43 669.80,480.25 665.36,473.99 663.80,466.60 665.36,459.21 669.80,452.95 676.45,448.77 684.30,447.30 692.15,448.77 698.80,452.95 703.24,459.21" fill="none" stroke="#000" stroke-width="2.15" stroke-linejoin="round"/>
<polygon points="817.90,419.40 811.55,439.80 794.20,454.73 770.50,460.20 746.80,454.73 729.45,439.80 723.10,419.40 729.45,399.00 746.80,384.07 770.50,378.60 794.20,384.07 811.55,399.00" fill="none" stroke="#000" stroke-width="2.15" stroke-linejoin="round"/>
<polygon points="804.80,419.20 802.23,429.88 794.90,438.93 783.93,444.98 771.00,447.10 758.07,444.98 747.10,438.93 739.77,429.88 737.20,419.20 739.77,408.52 747.10,399.47 758.07,393.42 771.00,391.30 783.93,393.42 794.90,399.47 802.23,408.52" fill="none" stroke="#000" stroke-width="2.15" stroke-linejoin="round"/>
<path d="M836.2 445.5 L836.2 399" fill="none" stroke="#000" stroke-width="1.2"/>
<path d="M836.2 399 C838 389 846 381.2 855 381.2 L866 381.2 C875 381.2 883.5 389 885.2 399" fill="none" stroke="#000" stroke-width="1.8"/>
<path d="M885.2 399 L885.2 445.5" fill="none" stroke="#000" stroke-width="2.0"/>
<polygon points="894.40,467.00 889.89,482.75 877.55,494.28 860.70,498.50 843.85,494.28 831.51,482.75 827.00,467.00 831.51,451.25 843.85,439.72 860.70,435.50 877.55,439.72 889.89,451.25" fill="none" stroke="#000" stroke-width="2.15" stroke-linejoin="round"/>
<polygon points="885.80,466.70 883.85,475.85 878.30,483.60 870.00,488.78 860.20,490.60 850.40,488.78 842.10,483.60 836.55,475.85 834.60,466.70 836.55,457.55 842.10,449.80 850.40,444.62 860.20,442.80 870.00,444.62 878.30,449.80 883.85,457.55" fill="none" stroke="#000" stroke-width="2.15" stroke-linejoin="round"/>
<line x1="157.00" y1="859.50" x2="353.60" y2="859.50" stroke="#000" stroke-width="3.10" stroke-linecap="butt"/>
<line x1="157.00" y1="865.80" x2="354.90" y2="865.80" stroke="#000" stroke-width="2.70" stroke-linecap="butt"/>
<line x1="157.90" y1="858.20" x2="157.90" y2="867.00" stroke="#000" stroke-width="2.00" stroke-linecap="butt"/>
<line x1="352.70" y1="858.20" x2="352.70" y2="867.00" stroke="#000" stroke-width="2.00" stroke-linecap="butt"/>
<line x1="156.70" y1="870.20" x2="156.70" y2="1038.50" stroke="#000" stroke-width="2.40" stroke-linecap="butt"/>
<line x1="354.80" y1="870.20" x2="354.80" y2="1038.50" stroke="#000" stroke-width="2.40" stroke-linecap="butt"/>
<line x1="162.00" y1="866.50" x2="162.00" y2="1038.50" stroke="#000" stroke-width="2.40" stroke-linecap="butt"/>
<line x1="348.50" y1="866.50" x2="348.50" y2="1038.50" stroke="#000" stroke-width="2.40" stroke-linecap="butt"/>
<line x1="155.50" y1="870.60" x2="163.00" y2="870.60" stroke="#000" stroke-width="2.20" stroke-linecap="butt"/>
<line x1="347.50" y1="870.60" x2="356.00" y2="870.60" stroke="#000" stroke-width="2.20" stroke-linecap="butt"/>
<line x1="162.00" y1="1027.10" x2="348.50" y2="1027.10" stroke="#000" stroke-width="3.40" stroke-linecap="butt"/>
<line x1="162.00" y1="869.50" x2="353.30" y2="1037.30" stroke="#000" stroke-width="1.75" stroke-linecap="butt"/>
<line x1="348.50" y1="869.50" x2="158.20" y2="1037.30" stroke="#000" stroke-width="1.75" stroke-linecap="butt"/>
<line x1="360.50" y1="859.50" x2="559.80" y2="859.50" stroke="#000" stroke-width="3.10" stroke-linecap="butt"/>
<line x1="360.50" y1="865.80" x2="561.10" y2="865.80" stroke="#000" stroke-width="2.70" stroke-linecap="butt"/>
<line x1="361.40" y1="858.20" x2="361.40" y2="867.00" stroke="#000" stroke-width="2.00" stroke-linecap="butt"/>
<line x1="558.90" y1="858.20" x2="558.90" y2="867.00" stroke="#000" stroke-width="2.00" stroke-linecap="butt"/>
<line x1="361.20" y1="870.20" x2="361.20" y2="1038.50" stroke="#000" stroke-width="2.40" stroke-linecap="butt"/>
<line x1="559.50" y1="870.20" x2="559.50" y2="1038.50" stroke="#000" stroke-width="2.40" stroke-linecap="butt"/>
<line x1="367.60" y1="866.50" x2="367.60" y2="1038.50" stroke="#000" stroke-width="2.40" stroke-linecap="butt"/>
<line x1="554.30" y1="866.50" x2="554.30" y2="1038.50" stroke="#000" stroke-width="2.40" stroke-linecap="butt"/>
<line x1="360.00" y1="870.60" x2="368.60" y2="870.60" stroke="#000" stroke-width="2.20" stroke-linecap="butt"/>
<line x1="553.30" y1="870.60" x2="560.70" y2="870.60" stroke="#000" stroke-width="2.20" stroke-linecap="butt"/>
<line x1="367.60" y1="1027.10" x2="554.30" y2="1027.10" stroke="#000" stroke-width="3.40" stroke-linecap="butt"/>
<line x1="367.60" y1="869.50" x2="558.00" y2="1037.30" stroke="#000" stroke-width="1.75" stroke-linecap="butt"/>
<line x1="554.30" y1="869.50" x2="362.70" y2="1037.30" stroke="#000" stroke-width="1.75" stroke-linecap="butt"/>
<line x1="566.30" y1="859.50" x2="765.20" y2="859.50" stroke="#000" stroke-width="3.10" stroke-linecap="butt"/>
<line x1="566.30" y1="865.80" x2="766.50" y2="865.80" stroke="#000" stroke-width="2.70" stroke-linecap="butt"/>
<line x1="567.20" y1="858.20" x2="567.20" y2="867.00" stroke="#000" stroke-width="2.00" stroke-linecap="butt"/>
<line x1="764.30" y1="858.20" x2="764.30" y2="867.00" stroke="#000" stroke-width="2.00" stroke-linecap="butt"/>
<line x1="568.20" y1="870.20" x2="568.20" y2="1038.50" stroke="#000" stroke-width="2.40" stroke-linecap="butt"/>
<line x1="764.90" y1="870.20" x2="764.90" y2="1038.50" stroke="#000" stroke-width="2.40" stroke-linecap="butt"/>
<line x1="573.30" y1="866.50" x2="573.30" y2="1038.50" stroke="#000" stroke-width="2.40" stroke-linecap="butt"/>
<line x1="759.80" y1="866.50" x2="759.80" y2="1038.50" stroke="#000" stroke-width="2.40" stroke-linecap="butt"/>
<line x1="567.00" y1="870.60" x2="574.30" y2="870.60" stroke="#000" stroke-width="2.20" stroke-linecap="butt"/>
<line x1="758.80" y1="870.60" x2="766.10" y2="870.60" stroke="#000" stroke-width="2.20" stroke-linecap="butt"/>
<line x1="573.30" y1="1027.10" x2="759.80" y2="1027.10" stroke="#000" stroke-width="3.40" stroke-linecap="butt"/>
<line x1="573.30" y1="869.50" x2="763.40" y2="1037.30" stroke="#000" stroke-width="1.75" stroke-linecap="butt"/>
<line x1="759.80" y1="869.50" x2="569.70" y2="1037.30" stroke="#000" stroke-width="1.75" stroke-linecap="butt"/>
<line x1="772.10" y1="859.50" x2="970.00" y2="859.50" stroke="#000" stroke-width="3.10" stroke-linecap="butt"/>
<line x1="772.10" y1="865.80" x2="971.30" y2="865.80" stroke="#000" stroke-width="2.70" stroke-linecap="butt"/>
<line x1="773.00" y1="858.20" x2="773.00" y2="867.00" stroke="#000" stroke-width="2.00" stroke-linecap="butt"/>
<line x1="969.10" y1="858.20" x2="969.10" y2="867.00" stroke="#000" stroke-width="2.00" stroke-linecap="butt"/>
<line x1="772.70" y1="870.20" x2="772.70" y2="1038.50" stroke="#000" stroke-width="2.40" stroke-linecap="butt"/>
<line x1="969.70" y1="870.20" x2="969.70" y2="1038.50" stroke="#000" stroke-width="2.40" stroke-linecap="butt"/>
<line x1="777.80" y1="866.50" x2="777.80" y2="1038.50" stroke="#000" stroke-width="2.40" stroke-linecap="butt"/>
<line x1="964.10" y1="866.50" x2="964.10" y2="1038.50" stroke="#000" stroke-width="2.40" stroke-linecap="butt"/>
<line x1="771.50" y1="870.60" x2="778.80" y2="870.60" stroke="#000" stroke-width="2.20" stroke-linecap="butt"/>
<line x1="963.10" y1="870.60" x2="970.90" y2="870.60" stroke="#000" stroke-width="2.20" stroke-linecap="butt"/>
<line x1="777.80" y1="1027.10" x2="964.10" y2="1027.10" stroke="#000" stroke-width="3.40" stroke-linecap="butt"/>
<line x1="777.80" y1="869.50" x2="968.20" y2="1037.30" stroke="#000" stroke-width="1.75" stroke-linecap="butt"/>
<line x1="964.10" y1="869.50" x2="774.20" y2="1037.30" stroke="#000" stroke-width="1.75" stroke-linecap="butt"/>
<line x1="334.00" y1="857.20" x2="352.00" y2="857.20" stroke="#000" stroke-width="1.70" stroke-linecap="butt"/>
<line x1="540.00" y1="857.20" x2="558.00" y2="857.20" stroke="#000" stroke-width="1.70" stroke-linecap="butt"/>
<line x1="573.30" y1="857.20" x2="584.70" y2="857.20" stroke="#000" stroke-width="1.70" stroke-linecap="butt"/>
<line x1="777.20" y1="857.20" x2="794.30" y2="857.20" stroke="#000" stroke-width="1.70" stroke-linecap="butt"/>
<line x1="619" y1="857.4" x2="710.6" y2="857.4" stroke="#000" stroke-width="1.2" stroke-dasharray="3 1.5"/>
<line x1="354.80" y1="871.40" x2="361.20" y2="871.40" stroke="#000" stroke-width="1.90" stroke-linecap="butt"/>
<line x1="354.80" y1="876.20" x2="361.20" y2="876.20" stroke="#000" stroke-width="1.90" stroke-linecap="butt"/>
<line x1="559.50" y1="871.40" x2="568.20" y2="871.40" stroke="#000" stroke-width="1.90" stroke-linecap="butt"/>
<line x1="559.50" y1="876.20" x2="568.20" y2="876.20" stroke="#000" stroke-width="1.90" stroke-linecap="butt"/>
<line x1="764.90" y1="871.40" x2="772.70" y2="871.40" stroke="#000" stroke-width="1.90" stroke-linecap="butt"/>
<line x1="764.90" y1="876.20" x2="772.70" y2="876.20" stroke="#000" stroke-width="1.90" stroke-linecap="butt"/>
<line x1="38.90" y1="1130.00" x2="62.10" y2="1106.80" stroke="#000" stroke-width="1.75" stroke-linecap="butt"/>
<line x1="145.70" y1="1130.00" x2="168.90" y2="1106.80" stroke="#000" stroke-width="1.75" stroke-linecap="butt"/>
<line x1="342.00" y1="1130.00" x2="365.20" y2="1106.80" stroke="#000" stroke-width="1.75" stroke-linecap="butt"/>
<line x1="351.60" y1="1130.00" x2="374.80" y2="1106.80" stroke="#000" stroke-width="1.75" stroke-linecap="butt"/>
<line x1="548.30" y1="1130.00" x2="571.50" y2="1106.80" stroke="#000" stroke-width="1.75" stroke-linecap="butt"/>
<line x1="557.20" y1="1130.00" x2="580.40" y2="1106.80" stroke="#000" stroke-width="1.75" stroke-linecap="butt"/>
<line x1="753.40" y1="1130.00" x2="776.60" y2="1106.80" stroke="#000" stroke-width="1.75" stroke-linecap="butt"/>
<line x1="761.70" y1="1130.00" x2="784.90" y2="1106.80" stroke="#000" stroke-width="1.75" stroke-linecap="butt"/>
<line x1="957.90" y1="1130.00" x2="975.60" y2="1112.40" stroke="#000" stroke-width="1.75" stroke-linecap="butt"/>
<line x1="1028.30" y1="1126.20" x2="1047.60" y2="1106.80" stroke="#000" stroke-width="1.75" stroke-linecap="butt"/>
<line x1="38.40" y1="1172.80" x2="61.60" y2="1149.60" stroke="#000" stroke-width="1.75" stroke-linecap="butt"/>
<line x1="1024.40" y1="1173.00" x2="1047.60" y2="1149.80" stroke="#000" stroke-width="1.75" stroke-linecap="butt"/>
<line x1="50.00" y1="1118.60" x2="74.00" y2="1118.60" stroke="#000" stroke-width="1.90" stroke-linecap="butt"/>
<line x1="131.60" y1="1118.60" x2="226.40" y2="1118.60" stroke="#000" stroke-width="1.90" stroke-linecap="butt"/>
<line x1="284.60" y1="1118.60" x2="431.20" y2="1118.60" stroke="#000" stroke-width="1.90" stroke-linecap="butt"/>
<line x1="489.40" y1="1118.60" x2="636.90" y2="1118.60" stroke="#000" stroke-width="1.90" stroke-linecap="butt"/>
<line x1="695.00" y1="1118.60" x2="843.00" y2="1118.60" stroke="#000" stroke-width="1.90" stroke-linecap="butt"/>
<line x1="899.00" y1="1118.60" x2="975.00" y2="1118.60" stroke="#000" stroke-width="1.90" stroke-linecap="butt"/>
<line x1="50.00" y1="1162.00" x2="505.00" y2="1162.00" stroke="#000" stroke-width="1.90" stroke-linecap="butt"/>
<line x1="582.00" y1="1162.00" x2="1036.50" y2="1162.00" stroke="#000" stroke-width="1.90" stroke-linecap="butt"/>
<path d="M77.17 1108.72 L88.45 1108.72 L82.30 1116.29 L85.38 1116.29 L87.42 1117.23 L88.45 1118.18 L89.47 1121.01 L89.47 1122.90 L88.45 1125.74 L86.40 1127.63 L83.33 1128.58 L80.25 1128.58 L77.17 1127.63 L76.15 1126.68 L75.12 1124.79 M96.65 1113.45 L96.65 1112.51 L97.67 1110.62 L98.70 1109.67 L100.75 1108.72 L104.85 1108.72 L106.90 1109.67 L107.92 1110.62 L108.95 1112.51 L108.95 1114.40 L107.92 1116.29 L105.88 1119.12 L95.62 1128.58 L109.97 1128.58 M128.43 1108.72 L118.17 1108.72 L117.15 1117.23 L118.17 1116.29 L121.25 1115.34 L124.32 1115.34 L127.40 1116.29 L129.45 1118.18 L130.47 1121.01 L130.47 1122.90 L129.45 1125.74 L127.40 1127.63 L124.32 1128.58 L121.25 1128.58 L118.17 1127.63 L117.15 1126.68 L116.12 1124.79" fill="none" stroke="#000" stroke-width="1.85" stroke-linecap="round" stroke-linejoin="round"/>
<path d="M240.22 1111.19 L239.16 1109.28 L235.99 1108.33 L233.87 1108.33 L230.70 1109.28 L228.58 1112.14 L227.53 1116.92 L227.53 1121.69 L228.58 1125.51 L230.70 1127.42 L233.87 1128.38 L234.93 1128.38 L238.10 1127.42 L240.22 1125.51 L241.27 1122.65 L241.27 1121.69 L240.22 1118.83 L238.10 1116.92 L234.93 1115.96 L233.87 1115.96 L230.70 1116.92 L228.58 1118.83 L227.53 1121.69 M253.96 1108.33 L250.79 1109.28 L248.68 1112.14 L247.62 1116.92 L247.62 1119.78 L248.68 1124.56 L250.79 1127.42 L253.96 1128.38 L256.08 1128.38 L259.25 1127.42 L261.37 1124.56 L262.42 1119.78 L262.42 1116.92 L261.37 1112.14 L259.25 1109.28 L256.08 1108.33 L253.96 1108.33 M275.11 1108.33 L271.94 1109.28 L269.83 1112.14 L268.77 1116.92 L268.77 1119.78 L269.83 1124.56 L271.94 1127.42 L275.11 1128.38 L277.23 1128.38 L280.40 1127.42 L282.52 1124.56 L283.57 1119.78 L283.57 1116.92 L282.52 1112.14 L280.40 1109.28 L277.23 1108.33 L275.11 1108.33" fill="none" stroke="#000" stroke-width="1.85" stroke-linecap="round" stroke-linejoin="round"/>
<path d="M298.79 1113.10 L298.79 1112.14 L299.75 1110.23 L300.71 1109.28 L302.63 1108.33 L306.47 1108.33 L308.39 1109.28 L309.35 1110.23 L310.31 1112.14 L310.31 1114.05 L309.35 1115.96 L307.43 1118.83 L297.82 1128.38 L311.27 1128.38 M328.55 1108.33 L318.95 1108.33 L317.99 1116.92 L318.95 1115.96 L321.83 1115.01 L324.71 1115.01 L327.59 1115.96 L329.51 1117.87 L330.47 1120.74 L330.47 1122.65 L329.51 1125.51 L327.59 1127.42 L324.71 1128.38 L321.83 1128.38 L318.95 1127.42 L317.99 1126.47 L317.03 1124.56" fill="none" stroke="#000" stroke-width="1.85" stroke-linecap="round" stroke-linejoin="round"/>
<path d="M444.94 1111.19 L443.88 1109.28 L440.70 1108.33 L438.58 1108.33 L435.40 1109.28 L433.28 1112.14 L432.23 1116.92 L432.23 1121.69 L433.28 1125.51 L435.40 1127.42 L438.58 1128.38 L439.64 1128.38 L442.82 1127.42 L444.94 1125.51 L446.00 1122.65 L446.00 1121.69 L444.94 1118.83 L442.82 1116.92 L439.64 1115.96 L438.58 1115.96 L435.40 1116.92 L433.28 1118.83 L432.23 1121.69 M458.71 1108.33 L455.53 1109.28 L453.41 1112.14 L452.35 1116.92 L452.35 1119.78 L453.41 1124.56 L455.53 1127.42 L458.71 1128.38 L460.83 1128.38 L464.01 1127.42 L466.13 1124.56 L467.19 1119.78 L467.19 1116.92 L466.13 1112.14 L464.01 1109.28 L460.83 1108.33 L458.71 1108.33 M479.90 1108.33 L476.72 1109.28 L474.60 1112.14 L473.54 1116.92 L473.54 1119.78 L474.60 1124.56 L476.72 1127.42 L479.90 1128.38 L482.02 1128.38 L485.20 1127.42 L487.32 1124.56 L488.38 1119.78 L488.38 1116.92 L487.32 1112.14 L485.20 1109.28 L482.02 1108.33 L479.90 1108.33" fill="none" stroke="#000" stroke-width="1.85" stroke-linecap="round" stroke-linejoin="round"/>
<path d="M504.48 1113.10 L504.48 1112.14 L505.43 1110.23 L506.38 1109.28 L508.28 1108.33 L512.09 1108.33 L513.99 1109.28 L514.94 1110.23 L515.89 1112.14 L515.89 1114.05 L514.94 1115.96 L513.04 1118.83 L503.53 1128.38 L516.85 1128.38 M533.97 1108.33 L524.46 1108.33 L523.51 1116.92 L524.46 1115.96 L527.31 1115.01 L530.17 1115.01 L533.02 1115.96 L534.92 1117.87 L535.88 1120.74 L535.88 1122.65 L534.92 1125.51 L533.02 1127.42 L530.17 1128.38 L527.31 1128.38 L524.46 1127.42 L523.51 1126.47 L522.55 1124.56" fill="none" stroke="#000" stroke-width="1.85" stroke-linecap="round" stroke-linejoin="round"/>
<path d="M650.64 1111.19 L649.58 1109.28 L646.40 1108.33 L644.28 1108.33 L641.10 1109.28 L638.98 1112.14 L637.92 1116.92 L637.92 1121.69 L638.98 1125.51 L641.10 1127.42 L644.28 1128.38 L645.34 1128.38 L648.52 1127.42 L650.64 1125.51 L651.70 1122.65 L651.70 1121.69 L650.64 1118.83 L648.52 1116.92 L645.34 1115.96 L644.28 1115.96 L641.10 1116.92 L638.98 1118.83 L637.92 1121.69 M664.41 1108.33 L661.23 1109.28 L659.11 1112.14 L658.05 1116.92 L658.05 1119.78 L659.11 1124.56 L661.23 1127.42 L664.41 1128.38 L666.53 1128.38 L669.71 1127.42 L671.83 1124.56 L672.89 1119.78 L672.89 1116.92 L671.83 1112.14 L669.71 1109.28 L666.53 1108.33 L664.41 1108.33 M685.60 1108.33 L682.42 1109.28 L680.30 1112.14 L679.24 1116.92 L679.24 1119.78 L680.30 1124.56 L682.42 1127.42 L685.60 1128.38 L687.72 1128.38 L690.90 1127.42 L693.02 1124.56 L694.08 1119.78 L694.08 1116.92 L693.02 1112.14 L690.90 1109.28 L687.72 1108.33 L685.60 1108.33" fill="none" stroke="#000" stroke-width="1.85" stroke-linecap="round" stroke-linejoin="round"/>
<path d="M709.19 1113.10 L709.19 1112.14 L710.16 1110.23 L711.12 1109.28 L713.06 1108.33 L716.92 1108.33 L718.85 1109.28 L719.82 1110.23 L720.79 1112.14 L720.79 1114.05 L719.82 1115.96 L717.89 1118.83 L708.22 1128.38 L721.75 1128.38 M739.14 1108.33 L729.48 1108.33 L728.51 1116.92 L729.48 1115.96 L732.38 1115.01 L735.28 1115.01 L738.18 1115.96 L740.11 1117.87 L741.08 1120.74 L741.08 1122.65 L740.11 1125.51 L738.18 1127.42 L735.28 1128.38 L732.38 1128.38 L729.48 1127.42 L728.51 1126.47 L727.55 1124.56" fill="none" stroke="#000" stroke-width="1.85" stroke-linecap="round" stroke-linejoin="round"/>
<path d="M856.34 1111.19 L855.32 1109.28 L852.27 1108.33 L850.23 1108.33 L847.18 1109.28 L845.14 1112.14 L844.12 1116.92 L844.12 1121.69 L845.14 1125.51 L847.18 1127.42 L850.23 1128.38 L851.25 1128.38 L854.30 1127.42 L856.34 1125.51 L857.36 1122.65 L857.36 1121.69 L856.34 1118.83 L854.30 1116.92 L851.25 1115.96 L850.23 1115.96 L847.18 1116.92 L845.14 1118.83 L844.12 1121.69 M869.57 1108.33 L866.52 1109.28 L864.48 1112.14 L863.47 1116.92 L863.47 1119.78 L864.48 1124.56 L866.52 1127.42 L869.57 1128.38 L871.61 1128.38 L874.66 1127.42 L876.70 1124.56 L877.72 1119.78 L877.72 1116.92 L876.70 1112.14 L874.66 1109.28 L871.61 1108.33 L869.57 1108.33 M889.93 1108.33 L886.88 1109.28 L884.84 1112.14 L883.82 1116.92 L883.82 1119.78 L884.84 1124.56 L886.88 1127.42 L889.93 1128.38 L891.97 1128.38 L895.02 1127.42 L897.06 1124.56 L898.08 1119.78 L898.08 1116.92 L897.06 1112.14 L895.02 1109.28 L891.97 1108.33 L889.93 1108.33" fill="none" stroke="#000" stroke-width="1.85" stroke-linecap="round" stroke-linejoin="round"/>
<path d="M977.12 1113.15 L977.12 1112.21 L978.11 1110.32 L979.10 1109.37 L981.08 1108.42 L985.05 1108.42 L987.03 1109.37 L988.02 1110.32 L989.02 1112.21 L989.02 1114.10 L988.02 1115.99 L986.04 1118.82 L976.12 1128.28 L990.01 1128.28 M1001.91 1108.42 L998.93 1109.37 L996.95 1112.21 L995.96 1116.93 L995.96 1119.77 L996.95 1124.49 L998.93 1127.33 L1001.91 1128.28 L1003.89 1128.28 L1006.87 1127.33 L1008.85 1124.49 L1009.84 1119.77 L1009.84 1116.93 L1008.85 1112.21 L1006.87 1109.37 L1003.89 1108.42 L1001.91 1108.42 M1021.74 1108.42 L1018.77 1109.37 L1016.78 1112.21 L1015.79 1116.93 L1015.79 1119.77 L1016.78 1124.49 L1018.77 1127.33 L1021.74 1128.28 L1023.72 1128.28 L1026.70 1127.33 L1028.68 1124.49 L1029.67 1119.77 L1029.67 1116.93 L1028.68 1112.21 L1026.70 1109.37 L1023.72 1108.42 L1021.74 1108.42" fill="none" stroke="#000" stroke-width="1.85" stroke-linecap="round" stroke-linejoin="round"/>
<path d="M508.05 1151.33 L519.21 1151.33 L513.12 1159.00 L516.17 1159.00 L518.20 1159.96 L519.21 1160.92 L520.22 1163.80 L520.22 1165.72 L519.21 1168.60 L517.18 1170.52 L514.14 1171.48 L511.10 1171.48 L508.05 1170.52 L507.04 1169.56 L506.03 1167.64 M532.39 1151.33 L529.35 1152.28 L527.32 1155.16 L526.31 1159.96 L526.31 1162.84 L527.32 1167.64 L529.35 1170.52 L532.39 1171.48 L534.42 1171.48 L537.46 1170.52 L539.49 1167.64 L540.51 1162.84 L540.51 1159.96 L539.49 1155.16 L537.46 1152.28 L534.42 1151.33 L532.39 1151.33 M552.68 1151.33 L549.64 1152.28 L547.61 1155.16 L546.59 1159.96 L546.59 1162.84 L547.61 1167.64 L549.64 1170.52 L552.68 1171.48 L554.71 1171.48 L557.75 1170.52 L559.78 1167.64 L560.79 1162.84 L560.79 1159.96 L559.78 1155.16 L557.75 1152.28 L554.71 1151.33 L552.68 1151.33 M572.96 1151.33 L569.92 1152.28 L567.89 1155.16 L566.88 1159.96 L566.88 1162.84 L567.89 1167.64 L569.92 1170.52 L572.96 1171.48 L574.99 1171.48 L578.03 1170.52 L580.06 1167.64 L581.08 1162.84 L581.08 1159.96 L580.06 1155.16 L578.03 1152.28 L574.99 1151.33 L572.96 1151.33" fill="none" stroke="#000" stroke-width="1.85" stroke-linecap="round" stroke-linejoin="round"/>
<rect x="844.4" y="90.6" width="209" height="50.6" fill="#bababa"/>
<g fill="none" stroke="#ffffff" stroke-width="2.0" stroke-linecap="butt" stroke-linejoin="round">
<path d="M885.3 111.2 L897.5 111.2 M891.1 111.2 L891.1 127.9"/>
<path d="M899.9 115.6 L899.9 119.7 A7.85 7.85 0 0 0 915.6 119.7 L915.6 115.6"/>
<path d="M901.0 95.4 A7.6 7.6 0 0 0 914.9 95.4"/>
<path d="M921.1 127.9 L921.1 111.2 L924.6 111.2 A4.7 4.7 0 0 1 924.6 120.4 L922 120.4" stroke-width="1.7"/>
</g>
<g fill="none" stroke="#f2f2f2" stroke-width="1.45" stroke-linecap="butt" stroke-linejoin="round">
<path d="M950.2 112.6 C948.4 110.2 942.2 110.2 941.9 114.8 C941.9 119 950.4 118.8 950.4 123.6 C950.2 128.4 942.8 128.4 940.4 125.6"/>
<path d="M955.5 110.6 L955.5 127.9 M966.9 110.6 L966.9 127.9 M955.5 118.8 L966.9 118.8"/>
<path d="M973.0 111.2 L983.6 111.2 M973.8 118.8 L982.4 118.8 M973.8 126.9 L983.6 126.9 M973.8 118.8 L973.8 126.9"/>
<path d="M988.6 110.6 L988.6 126.9 L999.6 126.9"/>
<path d="M1003.0 111.2 L1012.5 111.2 M1003.4 118.8 L1011 118.8 M1003.4 118.8 L1003.4 127.9"/>
</g>
</svg>
</body></html>
